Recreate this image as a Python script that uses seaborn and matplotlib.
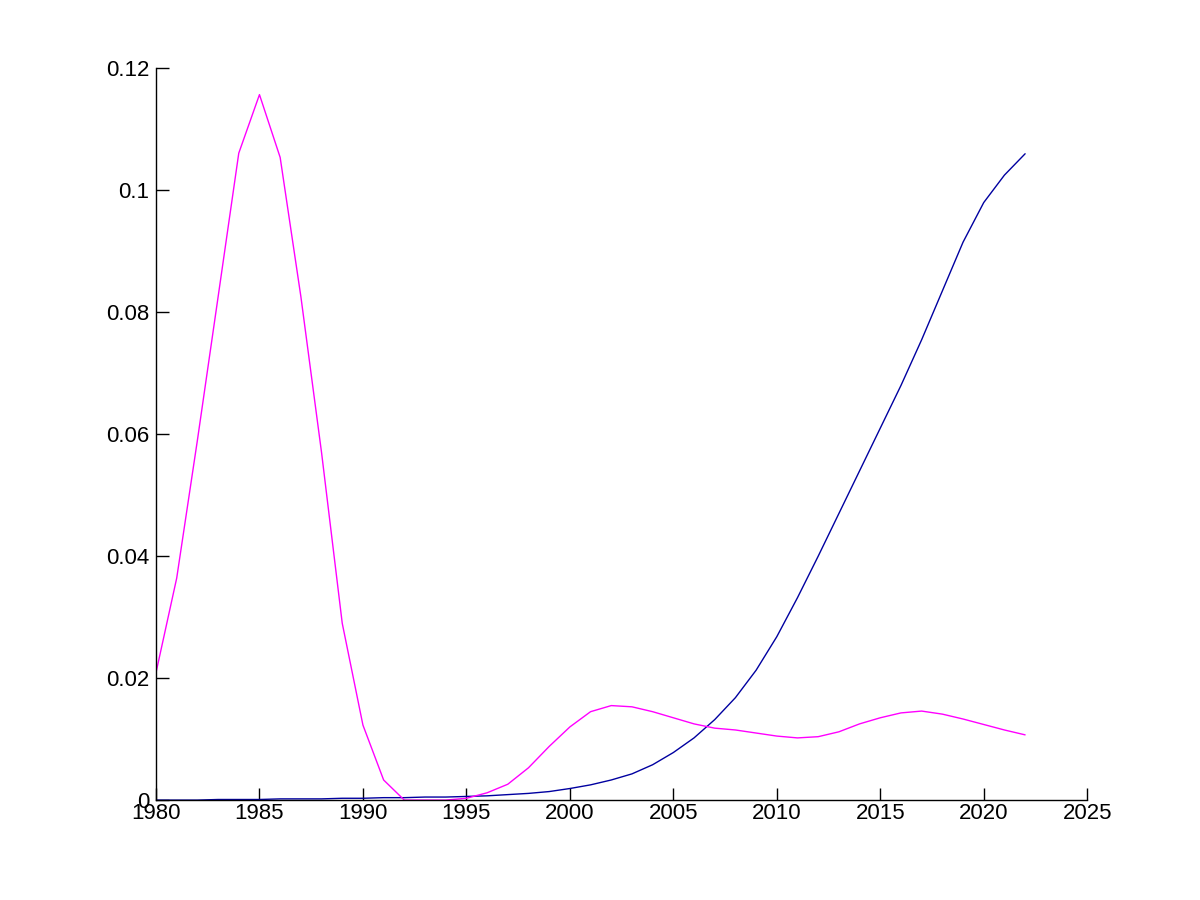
import numpy as np
import pandas as pd
import matplotlib
matplotlib.use('Agg')
import matplotlib.pyplot as plt
import seaborn as sns

years = list(range(1980, 2023))

magenta_vals = [0.0209, 0.0364, 0.0590, 0.0825, 0.1061, 0.1157, 0.1054, 0.0826, 0.0570, 0.0290,
                0.0123, 0.0033, 0.0000, 0.0000, 0.0000, 0.0003, 0.0012, 0.0026, 0.0053, 0.0088,
                0.0120, 0.0145, 0.0155, 0.0153, 0.0145, 0.0135, 0.0125, 0.0118, 0.0115, 0.0110,
                0.0105, 0.0102, 0.0104, 0.0112, 0.0125, 0.0135, 0.0143, 0.0146, 0.0141, 0.0133,
                0.0124, 0.0115, 0.0107]

blue_vals = [0.0000, 0.0000, 0.0000, 0.0001, 0.0001, 0.0001, 0.0002, 0.0002, 0.0002, 0.0003,
             0.0003, 0.0004, 0.0004, 0.0005, 0.0005, 0.0006, 0.0007, 0.0009, 0.0011, 0.0014,
             0.0019, 0.0025, 0.0033, 0.0043, 0.0058, 0.0078, 0.0102, 0.0132, 0.0168, 0.0213,
             0.0268, 0.0332, 0.0400, 0.0470, 0.0540, 0.0610, 0.0680, 0.0755, 0.0835, 0.0915,
             0.0980, 0.1025, 0.1060]

x_ticks = [1980, 1985, 1990, 1995, 2000, 2005, 2010, 2015, 2020, 2025]
y_ticks = [0, 0.02, 0.04, 0.06, 0.08, 0.1, 0.12]
y_tick_labels = ['0', '0.02', '0.04', '0.06', '0.08', '0.1', '0.12']

df = pd.DataFrame({'year': years, 'magenta': magenta_vals, 'blue': blue_vals})

sns.set_style('white')
plt.rcParams['font.family'] = ['Liberation Sans', 'DejaVu Sans']

fig = plt.figure(figsize=(12, 9), dpi=100)
ax = fig.add_axes([0.13, 0.111, 0.776, 0.813])

sns.lineplot(data=df, x='year', y='blue', color='#0000A0', linewidth=1, ax=ax)
sns.lineplot(data=df, x='year', y='magenta', color='#FF00FF', linewidth=1, ax=ax)

ax.set_xlim(1980, 2025)
ax.set_ylim(0, 0.12)
ax.set_xticks(x_ticks)
ax.set_xticklabels([str(t) for t in x_ticks])
ax.set_yticks(y_ticks)
ax.set_yticklabels(y_tick_labels)
ax.set_xlabel('')
ax.set_ylabel('')

sns.despine(ax=ax, top=True, right=True)
for side in ['left', 'bottom']:
    ax.spines[side].set_color('black')
    ax.spines[side].set_linewidth(1)
ax.tick_params(direction='in', length=9, width=1, colors='black', labelsize=16,
               bottom=True, left=True)
ax.tick_params(axis='x', pad=2)
ax.tick_params(axis='y', pad=5)

fig.savefig('out.png', dpi=100, facecolor='white')
